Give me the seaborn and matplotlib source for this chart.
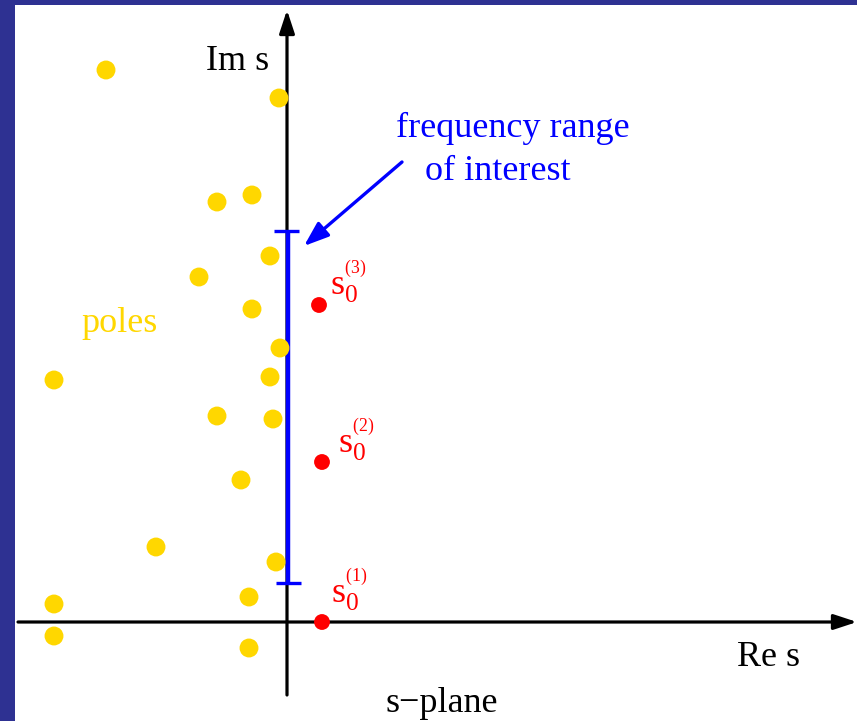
import matplotlib
matplotlib.use("Agg")
import matplotlib.pyplot as plt
from matplotlib.patches import Rectangle
import seaborn as sns
import pandas as pd

# Pole locations in the s-plane (Re, Im)
pole_re = [-181, -8, -35, -70, -17, -88, -35, -7, -233, -17, -70, -14, -46, -131, -11, -38, -233, -233, -38]
pole_im = [552, 524, 427, 420, 366, 345, 313, 274, 242, 245, 206, 203, 142, 75, 60, 25, 18, -14, -26]

# Expansion points s0^(k)
s0_re = [35, 35, 32]
s0_im = [0, 160, 317]
s0_labels = [r"$\mathrm{s}_0^{{}^{(1)}}$", r"$\mathrm{s}_0^{{}^{(2)}}$", r"$\mathrm{s}_0^{{}^{(3)}}$"]

# Frequency band on the imaginary axis
band_lo, band_hi = 39, 391

# Axis extents
re_min, re_max = -269, 568
im_min, im_max = -73, 612

BORDER = "#2E3192"
GOLD = "#FFD700"

sns.set_theme(style="white")
plt.rcParams["font.family"] = ["Liberation Serif", "DejaVu Serif"]
plt.rcParams["mathtext.fontset"] = "custom"
plt.rcParams["mathtext.rm"] = "Liberation Serif"
plt.rcParams["mathtext.it"] = "Liberation Serif:italic"

fig = plt.figure(figsize=(8.57, 7.21), dpi=100)
fig.patch.set_facecolor(BORDER)
ax = fig.add_axes([0, 0, 1, 1])
ax.set_facecolor(BORDER)

# white slide area
ax.add_patch(Rectangle((15 / 857, 0), 1 - 15 / 857, 1 - 5 / 721,
                       transform=ax.transAxes, facecolor="white",
                       edgecolor="none", zorder=0))

# poles and expansion points
poles = pd.DataFrame({"re": pole_re, "im": pole_im})
pts = pd.DataFrame({"re": s0_re, "im": s0_im})
sns.scatterplot(data=poles, x="re", y="im", s=185, color=GOLD, edgecolor="none",
                ax=ax, zorder=4, legend=False)
sns.scatterplot(data=pts, x="re", y="im", s=130, color="red", edgecolor="none",
                ax=ax, zorder=4, legend=False)
ax.set_xlim(-287, 857 - 287)
ax.set_ylim(622 - 721, 622)
ax.axis("off")

# coordinate axes with arrowheads
arrow_kw = dict(arrowstyle="-|>,head_length=14,head_width=4.6", color="black",
                lw=2.3, shrinkA=0, shrinkB=0, mutation_scale=1)
ax.annotate("", xy=(re_max + 2, 0), xytext=(re_min, 0), arrowprops=arrow_kw, zorder=2)
ax.annotate("", xy=(0, im_max), xytext=(0, im_min), arrowprops=arrow_kw, zorder=2)

# frequency range on the imaginary axis
ax.plot([1, 1], [band_lo, band_hi], color="blue", lw=3.2, zorder=3, solid_capstyle="butt")
ax.plot([-13, 12], [band_hi, band_hi], color="blue", lw=2.4, zorder=3, solid_capstyle="butt")
ax.plot([-11, 14], [band_lo, band_lo], color="blue", lw=2.4, zorder=3, solid_capstyle="butt")

fs = 26
# labels of the expansion points
for (x, y), lab in zip([(44, 19), (51, 169), (43, 327)], s0_labels):
    ax.text(x, y, lab, color="red", fontsize=fs, ha="left", va="baseline", zorder=5)

ax.text(-49, 561, "Im s", fontsize=fs, ha="center", va="center", color="black")
ax.text(482, -36, "Re s", fontsize=fs, ha="center", va="center", color="black")
ax.text(155, -82, "s\u2212plane", fontsize=fs, ha="center", va="center", color="black")
ax.text(-167, 299, "poles", fontsize=fs, ha="center", va="center", color=GOLD)
ax.text(226, 494, "frequency range", fontsize=fs, ha="center", va="center", color="blue")
ax.text(211, 450, "of interest", fontsize=fs, ha="center", va="center", color="blue")

ax.annotate("", xy=(17, 376), xytext=(115, 460),
            arrowprops=dict(arrowstyle="-|>,head_length=15,head_width=5.5",
                            color="blue", lw=2.4, shrinkA=0, shrinkB=0,
                            mutation_scale=1), zorder=3)

fig.savefig("out.png", dpi=100, facecolor=fig.get_facecolor())
